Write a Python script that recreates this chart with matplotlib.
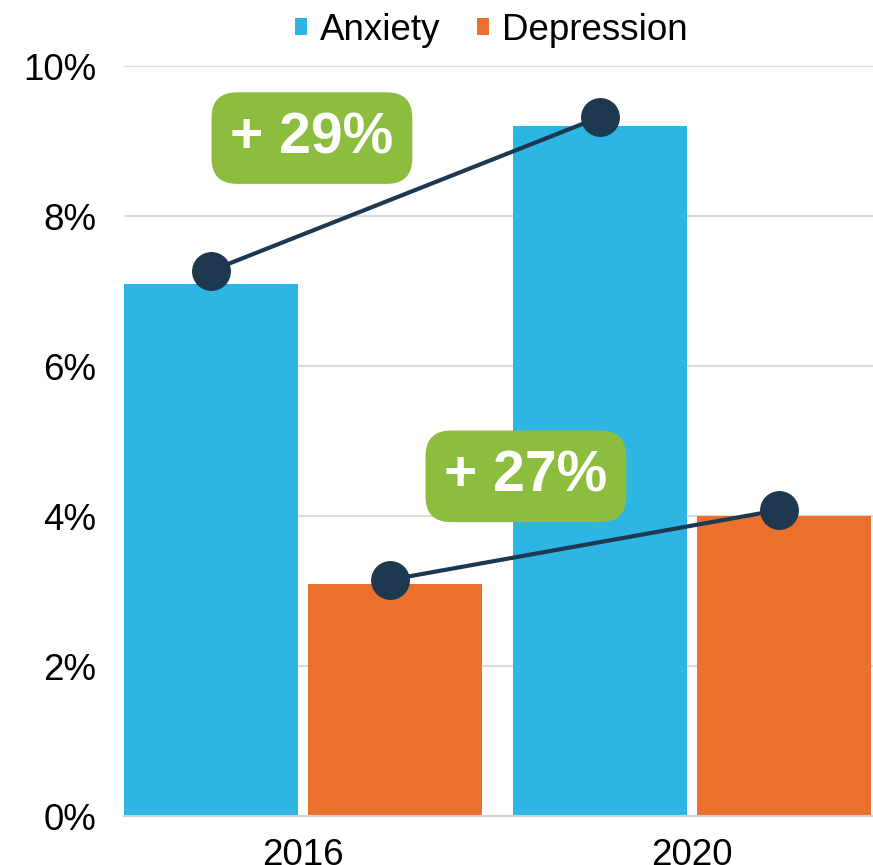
import matplotlib.pyplot as plt
import numpy as np

plt.rcParams['font.family'] = ['Liberation Sans', 'DejaVu Sans']

years = ['2016', '2020']
anxiety = [7.1, 9.2]
depression = [3.1, 4.0]
# dots of the change lines sit a little above the bar tops
anxiety_dots = [7.27, 9.32]
depression_dots = [3.15, 4.08]
change_labels = ['+ 29%', '+ 27%']

blue = '#2DB5E3'
orange = '#EC702D'
navy = '#1E3850'
green = '#8CBD3E'

fig = plt.figure(figsize=(8.73, 8.65), dpi=100)
ax = fig.add_axes([0.142, 0.0566, 0.858, 0.867])

x = np.arange(len(years))
w = 0.447
off = 0.237

ax.bar(x - off, anxiety, w, color=blue, label='Anxiety', zorder=2)
ax.bar(x + off, depression, w, color=orange, label='Depression', zorder=2)

ax.plot(x - off, anxiety_dots, color=navy, lw=3, marker='o', ms=27, zorder=4)
ax.plot(x + off - 0.014, depression_dots, color=navy, lw=3, marker='o', ms=27, zorder=4)

# change badges, placed between the two dots of each line
badge_pos = [(0.023, 9.04), (0.573, 4.53)]
for (bx, by), txt in zip(badge_pos, change_labels):
    ax.text(bx, by, txt, color='white', fontsize=41, fontweight='bold',
            ha='center', va='center', zorder=5,
            bbox=dict(boxstyle='round,pad=0.33,rounding_size=0.45',
                      fc=green, ec='none'))

ax.set_xlim(-0.46, 1.465)
ax.set_ylim(0, 10)
ax.set_yticks(np.arange(0, 11, 2))
ax.set_yticklabels([f'{v}%' for v in range(0, 11, 2)])
ax.set_xticks(x)
ax.set_xticklabels(years)
ax.tick_params(axis='both', length=0, labelsize=26.5)
ax.tick_params(axis='y', pad=20)
ax.tick_params(axis='x', pad=16)

ax.yaxis.grid(True, color='#DCDCDC', lw=1.5, zorder=0)
ax.set_axisbelow(True)
for s in ['top', 'right', 'left']:
    ax.spines[s].set_visible(False)
ax.spines['bottom'].set_color('#D0D0D0')
ax.spines['bottom'].set_linewidth(1.5)

ax.legend(loc='lower center', bbox_to_anchor=(0.49, 1.0), ncol=2, frameon=False,
          fontsize=26.5, handlelength=0.33, handleheight=0.33, handletextpad=0.35,
          columnspacing=1.0, borderaxespad=0.1)

fig.savefig('out.png', dpi=100)
